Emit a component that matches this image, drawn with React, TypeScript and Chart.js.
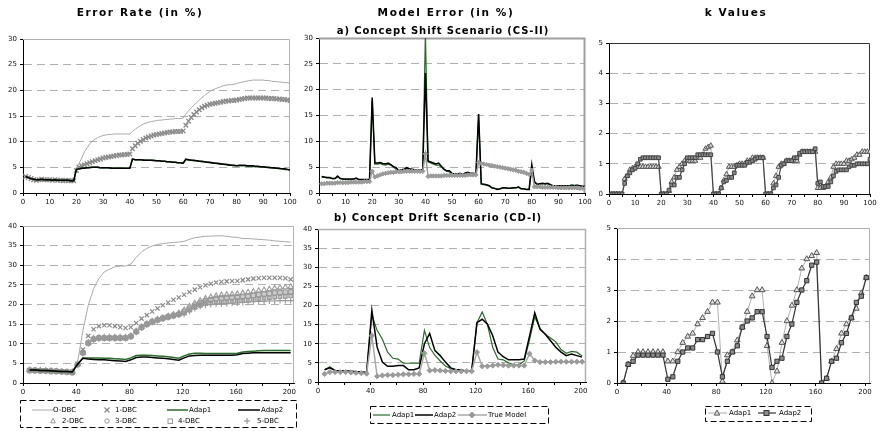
import React, { useEffect, useRef } from 'react';
import { Chart, registerables } from 'chart.js';
Chart.register(...registerables);

const W = 882;
const H = 431;
const FONT = "'DejaVu Sans', Verdana, sans-serif";

// sample positions
const topX = Array.from({ length: 100 }, (_, i) => i + 1);
const botX = Array.from({ length: 50 }, (_, i) => 5 + 4 * i);

// ---------- a) Concept Shift (CS-II): Error Rate ----------
const tlODBC = [
  3.2, 3.0, 2.8, 2.7, 2.6, 2.6, 2.6, 2.6, 2.6, 2.6,
  2.5, 2.5, 2.5, 2.5, 2.5, 2.5, 2.5, 2.5, 2.5, 4.8,
  5.8, 6.8, 8.0, 8.8, 9.6, 10.1, 10.5, 10.8, 11.0, 11.2,
  11.3, 11.4, 11.4, 11.5, 11.5, 11.5, 11.5, 11.5, 11.5, 11.5,
  12.0, 12.4, 12.8, 13.1, 13.4, 13.6, 13.8, 13.9, 14.0, 14.1,
  14.2, 14.2, 14.3, 14.3, 14.4, 14.4, 14.5, 14.5, 14.5, 14.6,
  15.4, 16.0, 16.6, 17.1, 17.6, 18.1, 18.6, 19.0, 19.4, 19.8,
  20.1, 20.3, 20.5, 20.7, 20.9, 21.0, 21.1, 21.1, 21.2, 21.3,
  21.5, 21.6, 21.7, 21.8, 21.9, 22.0, 22.0, 22.0, 22.0, 22.0,
  21.9, 21.9, 21.8, 21.7, 21.7, 21.6, 21.6, 21.5, 21.5, 21.4,
];
const tl1DBC = [
  3.2, 3.0, 2.8, 2.6, 2.5, 2.6, 2.7, 2.6, 2.6, 2.6,
  2.5, 2.6, 2.5, 2.5, 2.4, 2.5, 2.4, 2.4, 2.4, 4.4,
  5.0, 5.3, 5.5, 5.7, 5.9, 6.1, 6.3, 6.5, 6.6, 6.8,
  6.9, 7.0, 7.1, 7.2, 7.3, 7.4, 7.4, 7.5, 7.5, 7.6,
  8.6, 9.2, 9.7, 10.1, 10.4, 10.7, 10.9, 11.1, 11.3, 11.4,
  11.5, 11.6, 11.7, 11.8, 11.9, 11.9, 12.0, 12.0, 12.0, 12.1,
  13.2, 14.0, 14.7, 15.3, 15.8, 16.2, 16.6, 16.9, 17.1, 17.3,
  17.4, 17.5, 17.6, 17.7, 17.8, 17.9, 17.9, 18.0, 18.0, 18.1,
  18.2, 18.3, 18.4, 18.5, 18.5, 18.5, 18.5, 18.5, 18.5, 18.5,
  18.5, 18.4, 18.4, 18.4, 18.3, 18.3, 18.2, 18.2, 18.1, 18.0,
];
const tlAdap1 = [
  3.2, 3.0, 2.8, 2.7, 2.6, 2.6, 2.7, 2.6, 2.6, 2.6,
  2.5, 2.6, 2.5, 2.5, 2.5, 2.5, 2.5, 2.4, 2.4, 4.6,
  4.7, 4.8, 4.9, 4.9, 5.0, 5.0, 5.0, 5.0, 4.9, 4.9,
  4.9, 4.9, 4.9, 4.8, 4.8, 4.8, 4.8, 4.8, 4.8, 4.8,
  6.6, 6.5, 6.5, 6.5, 6.5, 6.4, 6.4, 6.4, 6.3, 6.3,
  6.3, 6.2, 6.2, 6.1, 6.1, 6.0, 6.0, 5.9, 5.9, 5.8,
  6.5, 6.4, 6.4, 6.3, 6.3, 6.2, 6.1, 6.1, 6.0, 5.9,
  5.8, 5.8, 5.7, 5.6, 5.6, 5.5, 5.4, 5.4, 5.3, 5.3,
  5.3, 5.3, 5.3, 5.2, 5.2, 5.2, 5.1, 5.1, 5.1, 5.0,
  5.0, 4.9, 4.9, 4.8, 4.8, 4.7, 4.7, 4.6, 4.6, 4.5,
];
const tlAdap2 = [
  3.2, 3.0, 2.8, 2.7, 2.6, 2.6, 2.7, 2.6, 2.6, 2.6,
  2.5, 2.6, 2.5, 2.5, 2.5, 2.5, 2.5, 2.4, 2.4, 4.6,
  4.7, 4.8, 4.8, 4.9, 4.9, 5.0, 5.0, 5.0, 4.9, 4.9,
  4.9, 4.9, 4.8, 4.8, 4.8, 4.8, 4.8, 4.8, 4.8, 4.8,
  6.6, 6.5, 6.5, 6.5, 6.4, 6.4, 6.4, 6.4, 6.4, 6.3,
  6.3, 6.2, 6.2, 6.1, 6.1, 6.0, 6.0, 5.9, 5.9, 5.8,
  6.6, 6.5, 6.4, 6.4, 6.3, 6.2, 6.2, 6.1, 6.0, 6.0,
  5.9, 5.8, 5.8, 5.7, 5.6, 5.6, 5.5, 5.4, 5.4, 5.3,
  5.4, 5.4, 5.4, 5.3, 5.3, 5.3, 5.2, 5.2, 5.1, 5.1,
  5.0, 5.0, 4.9, 4.9, 4.8, 4.8, 4.7, 4.7, 4.6, 4.5,
];

// ---------- a) CS-II: Model Error ----------
const tmAdap1 = [
  3.1, 3.0, 2.9, 2.9, 2.8, 2.8, 3.1, 2.8, 2.7, 2.6,
  2.6, 2.6, 2.7, 2.8, 2.6, 2.6, 2.6, 2.6, 2.5, 18.0,
  5.6, 5.6, 5.7, 5.5, 5.4, 5.6, 5.4, 5.0, 4.6, 4.0,
  4.3, 4.5, 4.7, 4.6, 4.5, 4.4, 4.3, 4.4, 4.4, 31.0,
  6.0, 5.8, 5.6, 5.4, 5.4, 5.0, 4.5, 4.2, 4.1, 3.7,
  3.6, 3.6, 3.7, 3.5, 3.8, 3.9, 3.7, 3.7, 3.6, 15.0,
  1.7, 1.6, 1.5, 1.3, 1.0, 0.9, 0.8, 0.8, 0.9, 1.0,
  0.9, 0.9, 1.0, 1.0, 1.1, 0.8, 0.8, 0.7, 0.7, 4.8,
  2.0, 1.6, 1.7, 1.8, 1.7, 1.8, 1.5, 1.4, 1.4, 1.3,
  1.3, 1.3, 1.3, 1.4, 1.6, 1.5, 1.5, 1.4, 1.2, 1.2,
];
const tmAdap2 = [
  3.2, 3.1, 3.0, 3.0, 2.8, 2.8, 3.3, 2.8, 2.7, 2.7,
  2.7, 2.7, 2.7, 2.9, 2.6, 2.6, 2.6, 2.6, 2.6, 18.5,
  5.8, 5.8, 5.9, 5.7, 5.6, 5.8, 5.5, 5.1, 4.9, 4.3,
  4.5, 4.6, 4.9, 4.7, 4.6, 4.5, 4.4, 4.5, 4.5, 23.2,
  6.2, 6.0, 5.8, 5.6, 5.8, 5.2, 4.6, 4.3, 4.3, 3.8,
  3.7, 3.7, 3.8, 3.5, 3.9, 4.0, 3.8, 3.8, 3.7, 15.3,
  1.8, 1.7, 1.6, 1.4, 1.0, 0.9, 0.7, 0.8, 1.0, 1.0,
  0.9, 0.9, 1.0, 1.0, 1.2, 0.8, 0.8, 0.7, 0.7, 5.5,
  2.2, 1.7, 1.8, 1.9, 1.8, 1.9, 1.6, 1.4, 1.4, 1.4,
  1.4, 1.4, 1.4, 1.4, 1.4, 1.4, 1.5, 1.4, 1.3, 1.3,
];
const tmTrue = [
  1.8, 1.8, 1.9, 1.9, 1.9, 1.9, 2.0, 2.0, 2.0, 2.0,
  2.0, 2.1, 2.1, 2.1, 2.1, 2.1, 2.2, 2.2, 2.2, 4.2,
  3.1, 3.3, 3.5, 3.7, 3.8, 3.9, 4.0, 4.0, 4.1, 4.1,
  4.1, 4.2, 4.2, 4.2, 4.2, 4.2, 4.2, 4.2, 4.2, 7.6,
  3.2, 3.3, 3.3, 3.3, 3.3, 3.3, 3.4, 3.4, 3.4, 3.4,
  3.4, 3.4, 3.4, 3.4, 3.4, 3.5, 3.5, 3.5, 3.5, 5.9,
  5.7, 5.6, 5.5, 5.4, 5.3, 5.2, 5.1, 5.0, 4.9, 4.8,
  4.7, 4.6, 4.5, 4.4, 4.2, 4.1, 4.0, 3.8, 3.6, 4.4,
  1.2, 1.2, 1.2, 1.1, 1.1, 1.1, 1.1, 1.1, 1.1, 1.0,
  1.0, 1.0, 1.0, 1.0, 1.0, 1.0, 1.0, 0.9, 0.9, 0.9,
];

// ---------- a) CS-II: k values ----------
const trAdap1 = [
  0, 0, 0, 0, 0, 0.5, 0.6, 0.8, 0.85, 0.9,
  0.9, 0.9, 0.9, 0.9, 0.9, 0.9, 0.9, 0.9, 0.9, 0,
  0, 0, 0.1, 0.4, 0.55, 0.8, 0.9, 1.0, 1.1, 1.1,
  1.1, 1.1, 1.1, 1.2, 1.2, 1.3, 1.5, 1.55, 1.6, 0,
  0, 0, 0.2, 0.45, 0.65, 0.9, 0.9, 0.9, 0.95, 1.0,
  1.0, 1.0, 1.1, 1.1, 1.2, 1.2, 1.2, 1.2, 1.2, 0,
  0, 0, 0.35, 0.6, 0.9, 1.0, 1.0, 1.1, 1.1, 1.1,
  1.1, 1.1, 1.3, 1.4, 1.4, 1.4, 1.4, 1.4, 1.4, 0.2,
  0.2, 0.2, 0.25, 0.4, 0.55, 0.9, 1.0, 1.0, 1.0, 1.0,
  1.1, 1.1, 1.15, 1.2, 1.3, 1.3, 1.4, 1.4, 1.4, 1.4,
];
const trAdap2 = [
  0, 0, 0, 0, 0, 0.35, 0.6, 0.7, 0.8, 0.85,
  1.0, 1.15, 1.2, 1.2, 1.2, 1.2, 1.2, 1.2, 1.2, 0,
  0, 0, 0.13, 0.3, 0.3, 0.55, 0.55, 0.8, 1.0, 1.2,
  1.2, 1.2, 1.2, 1.3, 1.3, 1.3, 1.3, 1.3, 1.3, 0,
  0, 0, 0.2, 0.4, 0.45, 0.55, 0.55, 0.7, 0.95, 0.95,
  0.95, 0.95, 1.05, 1.05, 1.1, 1.15, 1.2, 1.2, 1.2, 0,
  0, 0, 0.2, 0.3, 0.55, 0.95, 1.0, 1.1, 1.1, 1.1,
  1.2, 1.2, 1.35, 1.4, 1.4, 1.4, 1.4, 1.4, 1.5, 0.35,
  0.4, 0.25, 0.25, 0.25, 0.4, 0.6, 0.75, 0.8, 0.8, 0.8,
  0.8, 0.9, 0.95, 0.95, 1.0, 1.0, 1.0, 1.0, 1.0, 1.15,
];

// ---------- b) Concept Drift (CD-I): Error Rate ----------
const blODBC = [
  3.3, 3.3, 3.2, 3.2, 3.1, 3.0, 2.9, 2.9, 2.8,
  5.4, 13.4, 19.8, 24.0, 26.6, 28.3, 29.0, 29.6, 29.8, 29.8,
  30.3, 32.0, 33.4, 34.3, 34.9, 35.3, 35.5, 35.7, 35.8, 35.9,
  36.1, 36.6, 37.0, 37.2, 37.4, 37.4, 37.5, 37.5, 37.4, 37.2,
  37.1, 36.8, 36.8, 36.7, 36.6, 36.5, 36.4, 36.2, 36.1, 36.0, 35.9,
];
const bl1DBC = [
  3.3, 3.3, 3.2, 3.2, 3.1, 3.0, 2.9, 2.9, 2.8,
  4.8, 8.5, 12.0, 13.7, 14.5, 14.7, 14.7, 14.5, 14.2, 14.0,
  14.2, 15.3, 16.4, 17.3, 18.2, 19.0, 19.8, 20.5, 21.2, 21.8,
  22.5, 23.2, 23.8, 24.4, 24.9, 25.3, 25.6, 25.8, 25.9, 26.0,
  26.0, 26.2, 26.4, 26.6, 26.7, 26.8, 26.8, 26.8, 26.8, 26.7, 26.4,
];
const bl2DBC = [
  3.3, 3.2, 3.2, 3.1, 3.1, 3.0, 2.9, 2.8, 2.8,
  4.8, 7.8, 10.3, 11.3, 11.5, 11.6, 11.6, 11.6, 11.6, 11.6,
  12.0, 13.2, 14.3, 15.1, 15.7, 16.2, 16.6, 17.0, 17.4, 17.8,
  18.6, 19.5, 20.3, 21.0, 21.5, 21.9, 22.2, 22.4, 22.5, 22.6,
  22.7, 22.9, 23.1, 23.3, 23.5, 23.7, 23.9, 24.1, 24.3, 24.4, 24.5,
];
const bl3DBC = [
  3.2, 3.2, 3.1, 3.1, 3.0, 3.0, 2.9, 2.8, 2.7,
  4.7, 7.7, 10.2, 11.2, 11.5, 11.5, 11.5, 11.5, 11.5, 11.5,
  11.9, 13.1, 14.2, 15.0, 15.6, 16.1, 16.5, 16.9, 17.2, 17.5,
  18.2, 19.0, 19.8, 20.4, 20.9, 21.2, 21.5, 21.6, 21.7, 21.8,
  21.9, 22.0, 22.1, 22.3, 22.5, 22.6, 22.8, 22.9, 23.0, 23.1, 23.2,
];
const bl4DBC = [
  3.2, 3.2, 3.1, 3.1, 3.0, 2.9, 2.9, 2.8, 2.7,
  4.7, 7.7, 10.1, 11.1, 11.4, 11.4, 11.4, 11.4, 11.4, 11.4,
  11.8, 13.0, 14.1, 14.9, 15.5, 16.0, 16.4, 16.8, 17.1, 17.4,
  17.8, 18.6, 19.3, 19.8, 20.2, 20.4, 20.5, 20.6, 20.7, 20.8,
  20.9, 21.0, 21.1, 21.3, 21.4, 21.6, 21.7, 21.9, 22.0, 22.1, 22.2,
];
const bl5DBC = [
  3.2, 3.1, 3.1, 3.0, 3.0, 2.9, 2.8, 2.8, 2.7,
  4.7, 7.6, 10.0, 11.0, 11.3, 11.3, 11.3, 11.3, 11.3, 11.3,
  11.7, 12.9, 14.0, 14.8, 15.4, 15.9, 16.3, 16.7, 17.0, 17.3,
  17.5, 18.3, 19.0, 19.5, 19.8, 20.0, 20.1, 20.2, 20.2, 20.3,
  20.4, 20.5, 20.6, 20.7, 20.8, 20.8, 20.9, 20.9, 21.0, 21.0, 21.0,
];
const blAdap1 = [
  3.3, 3.3, 3.2, 3.2, 3.1, 3.0, 2.9, 2.9, 2.8,
  4.8, 6.4, 6.4, 6.4, 6.4, 6.3, 6.3, 6.2, 6.1, 6.0,
  6.4, 7.0, 7.1, 7.1, 7.0, 6.9, 6.8, 6.7, 6.5, 6.3,
  6.9, 7.4, 7.6, 7.6, 7.5, 7.5, 7.5, 7.5, 7.5, 7.5,
  7.6, 7.9, 8.0, 8.1, 8.2, 8.3, 8.3, 8.3, 8.3, 8.3, 8.3,
];
const blAdap2 = [
  3.3, 3.3, 3.2, 3.2, 3.1, 3.0, 2.9, 2.9, 2.8,
  4.8, 6.3, 6.1, 6.0, 5.9, 5.9, 5.8, 5.7, 5.6, 5.5,
  5.9, 6.5, 6.6, 6.6, 6.5, 6.4, 6.3, 6.2, 6.0, 5.8,
  6.4, 6.9, 7.0, 7.1, 7.1, 7.1, 7.1, 7.1, 7.1, 7.1,
  7.2, 7.5, 7.6, 7.7, 7.7, 7.7, 7.7, 7.7, 7.7, 7.7, 7.7,
];

// ---------- b) CD-I: Model Error ----------
const bmAdap1 = [
  3.2, 4.0, 3.0, 2.8, 2.9, 2.8, 2.7, 2.6, 2.5,
  17.5, 13.5, 11.2, 7.8, 6.2, 6.0, 4.9, 4.9, 4.9, 4.9,
  13.5, 9.0, 7.0, 5.5, 4.2, 3.5, 3.2, 3.0, 3.0, 3.0,
  15.5, 18.3, 15.0, 9.0, 6.0, 5.8, 5.0, 4.5, 4.5, 5.5,
  11.0, 17.0, 14.0, 12.5, 11.5, 10.5, 8.5, 7.5, 8.0, 7.8, 6.8,
];
const bmAdap2 = [
  3.2, 3.7, 3.0, 2.9, 2.9, 2.8, 2.7, 2.6, 2.5,
  18.7, 9.1, 5.2, 4.1, 4.1, 4.3, 4.3, 3.2, 3.2, 3.7,
  10.0, 12.7, 8.2, 6.9, 5.2, 3.7, 3.2, 3.2, 2.8, 3.0,
  15.5, 16.4, 15.1, 12.1, 7.8, 6.6, 5.8, 5.8, 5.8, 6.0,
  12.0, 18.1, 13.8, 12.5, 10.8, 9.1, 7.8, 6.9, 7.3, 6.9, 6.5,
];
const bmTrue = [
  2.1, 2.6, 2.6, 2.6, 2.6, 2.5, 2.4, 2.3, 2.2,
  12.1, 1.5, 1.7, 1.8, 1.8, 1.9, 2.0, 2.0, 2.1, 2.1,
  7.5, 3.0, 3.1, 3.0, 2.9, 2.8, 2.8, 2.8, 2.8, 2.8,
  7.8, 4.1, 4.1, 4.3, 4.5, 4.4, 4.3, 4.3, 4.3, 4.3,
  7.4, 5.6, 5.2, 5.2, 5.2, 5.3, 5.3, 5.3, 5.3, 5.3, 5.3,
];

// ---------- b) CD-I: k values ----------
const brAdap1 = [
  0, 0.6, 0.88, 1.0, 1.0, 1.0, 1.0, 1.0, 1.0,
  0.7, 0.7, 1.0, 1.3, 1.5, 1.6, 1.9, 2.1, 2.3, 2.6,
  2.6, 0.05, 0.9, 1.0, 1.38, 1.8, 2.3, 2.8, 3.0, 3.0,
  1.2, 0.0, 0.38, 1.3, 2.0, 2.5, 3.0, 3.7, 4.0, 4.1,
  4.2, 0, 0.15, 0.7, 1.1, 1.6, 1.9, 2.1, 2.4, 2.9, 3.4,
];
const brAdap2 = [
  0, 0.6, 0.7, 0.9, 0.9, 0.9, 0.9, 0.9, 0.9,
  0.12, 0.2, 0.7, 1.0, 1.13, 1.13, 1.4, 1.4, 1.5, 1.6,
  1.0, 0.2, 0.7, 1.0, 1.2, 1.8, 2.0, 2.1, 2.3, 2.3,
  1.5, 0.5, 0.7, 0.8, 1.5, 1.9, 2.6, 3.0, 3.3, 3.8,
  3.9, 0, 0.15, 0.7, 0.8, 1.3, 1.6, 2.1, 2.6, 2.8, 3.4,
];

// ---------- styles ----------
const GREEN = '#2a6a2a';
const ODBC_GREY = '#a8a8a8';
const MARK_GREY = '#8a8a8a';
const TRUE_GREY = '#9a9a9a';

function pts(xs: number[], ys: number[]) {
  return ys.map((y, i) => ({ x: xs[i], y }));
}

function lineDs(label: string, xs: number[], ys: number[], color: string, width: number) {
  return { label, data: pts(xs, ys), borderColor: color, borderWidth: width, pointRadius: 0, tension: 0, fill: false };
}

function markDs(label: string, xs: number[], ys: number[], style: string, radius: number, color: string, fillColor: string, bw: number) {
  return {
    label, data: pts(xs, ys), showLine: false, pointStyle: style, pointRadius: radius,
    pointBorderColor: color, pointBackgroundColor: fillColor, pointBorderWidth: bw, borderColor: color, backgroundColor: fillColor,
  };
}

function lineMarkDs(label: string, xs: number[], ys: number[], lineColor: string, lw: number, style: string, radius: number, ptBorder: string, ptFill: string, pbw: number) {
  return {
    label, data: pts(xs, ys), borderColor: lineColor, borderWidth: lw, tension: 0, fill: false,
    pointStyle: style, pointRadius: radius, pointBorderColor: ptBorder, pointBackgroundColor: ptFill, pointBorderWidth: pbw,
  };
}

const framePlugin = {
  id: 'frame',
  beforeDatasetsDraw(chart: any, _args: any, opts: any) {
    const { ctx, chartArea: a } = chart;
    ctx.save();
    ctx.strokeStyle = opts.color || '#aaa';
    ctx.lineWidth = opts.width || 1;
    ctx.beginPath();
    ctx.moveTo(a.left, a.top + 0.5);
    ctx.lineTo(a.right - 0.5, a.top + 0.5);
    ctx.lineTo(a.right - 0.5, a.bottom);
    ctx.stroke();
    ctx.restore();
  },
};

type Area = { left: number; top: number; right: number; bottom: number };
type Spec = {
  area: Area; xMax: number; xStep: number; xLabelEvery: number;
  yMax: number; yStep: number; datasets: any[]; frameColor: string; frameWidth: number;
};

const YW = 30;
const XH = 20;

function buildConfig(p: Spec): any {
  const tickFont = { family: FONT, size: 7 };
  return {
    type: 'line',
    data: { datasets: p.datasets },
    options: {
      responsive: false,
      animation: false,
      events: [],
      layout: {
        padding: {
          left: p.area.left - YW,
          top: p.area.top,
          right: W - p.area.right,
          bottom: H - p.area.bottom - XH,
        },
      },
      plugins: {
        legend: { display: false },
        tooltip: { enabled: false },
        title: { display: false },
        frame: { color: p.frameColor, width: p.frameWidth },
      },
      scales: {
        x: {
          type: 'linear',
          min: 0,
          max: p.xMax,
          afterFit: (s: any) => { s.height = XH; },
          ticks: {
            stepSize: p.xStep,
            autoSkip: false,
            maxRotation: 0,
            minRotation: 0,
            includeBounds: false,
            padding: 2,
            color: '#111',
            font: tickFont,
            callback: (v: any) => {
              const n = Math.round(Number(v));
              return n % p.xLabelEvery === 0 ? String(n) : '';
            },
          },
          grid: { drawOnChartArea: false, drawTicks: true, tickLength: 3, tickColor: '#000', color: '#000' },
          border: { color: '#000', width: 1 },
        },
        y: {
          min: 0,
          max: p.yMax,
          afterFit: (s: any) => { s.width = YW; },
          ticks: { stepSize: p.yStep, autoSkip: false, padding: 3, color: '#111', font: tickFont },
          grid: {
            color: (c: any) => (c.tick && (c.tick.value === 0 || c.tick.value === p.yMax) ? 'rgba(0,0,0,0)' : '#b0b0b0'),
            tickColor: '#000',
            tickLength: 3,
            lineWidth: 1,
            drawTicks: true,
          },
          border: { color: '#000', width: 1, dash: [8, 5] },
        },
      },
    },
    plugins: [framePlugin],
  };
}

const specs: Spec[] = [
  {
    area: { left: 23, top: 39, right: 290, bottom: 193 },
    xMax: 100, xStep: 5, xLabelEvery: 10, yMax: 30, yStep: 5, frameColor: '#b0b0b0', frameWidth: 1,
    datasets: [
      lineDs('Adap2', topX, tlAdap2, '#000', 1.5),
      lineDs('Adap1', topX, tlAdap1, GREEN, 1.5),
      markDs('1-DBC', topX, tl1DBC, 'crossRot', 3.2, MARK_GREY, MARK_GREY, 1.4),
      lineDs('O-DBC', topX, tlODBC, ODBC_GREY, 1),
    ],
  },
  {
    area: { left: 319, top: 38, right: 585, bottom: 193 },
    xMax: 100, xStep: 5, xLabelEvery: 10, yMax: 30, yStep: 5, frameColor: '#a0a0a0', frameWidth: 2,
    datasets: [
      lineMarkDs('True Model', topX, tmTrue, TRUE_GREY, 1.5, 'rectRot', 2.2, TRUE_GREY, TRUE_GREY, 1),
      lineDs('Adap2', topX, tmAdap2, '#000', 1.5),
      lineDs('Adap1', topX, tmAdap1, GREEN, 1.2),
    ],
  },
  {
    area: { left: 609, top: 43, right: 870, bottom: 194 },
    xMax: 100, xStep: 5, xLabelEvery: 10, yMax: 5, yStep: 1, frameColor: '#333', frameWidth: 1,
    datasets: [
      lineMarkDs('Adap2', topX, trAdap2, '#444', 1.2, 'rect', 2.6, '#444', '#8c8c8c', 1),
      lineMarkDs('Adap1', topX, trAdap1, '#aaa', 1, 'triangle', 3, '#555', '#dcdcdc', 1),
    ],
  },
  {
    area: { left: 23, top: 226, right: 294, bottom: 383 },
    xMax: 203.5, xStep: 20, xLabelEvery: 40, yMax: 40, yStep: 5, frameColor: '#b0b0b0', frameWidth: 1,
    datasets: [
      lineDs('Adap2', botX, blAdap2, '#000', 1.5),
      lineDs('Adap1', botX, blAdap1, GREEN, 1.5),
      markDs('1-DBC', botX, bl1DBC, 'crossRot', 3, MARK_GREY, MARK_GREY, 1.2),
      markDs('2-DBC', botX, bl2DBC, 'triangle', 3, '#999', 'rgba(0,0,0,0)', 1.1),
      markDs('3-DBC', botX, bl3DBC, 'circle', 2.6, '#999', 'rgba(140,140,140,0.45)', 1.1),
      markDs('4-DBC', botX, bl4DBC, 'rect', 2.6, '#999', 'rgba(140,140,140,0.45)', 1.1),
      markDs('5-DBC', botX, bl5DBC, 'cross', 3, '#999', '#999', 1.1),
      lineDs('O-DBC', botX, blODBC, ODBC_GREY, 1),
    ],
  },
  {
    area: { left: 318, top: 229, right: 586, bottom: 382 },
    xMax: 204, xStep: 20, xLabelEvery: 40, yMax: 40, yStep: 5, frameColor: '#b0b0b0', frameWidth: 1.5,
    datasets: [
      lineMarkDs('True Model', botX, bmTrue, '#a8a8a8', 1.5, 'rectRot', 2.6, TRUE_GREY, TRUE_GREY, 1),
      lineDs('Adap2', botX, bmAdap2, '#000', 1.5),
      lineDs('Adap1', botX, bmAdap1, GREEN, 1.2),
    ],
  },
  {
    area: { left: 617, top: 228, right: 870, bottom: 383 },
    xMax: 204, xStep: 20, xLabelEvery: 40, yMax: 5, yStep: 1, frameColor: '#b0b0b0', frameWidth: 1,
    datasets: [
      lineMarkDs('Adap2', botX, brAdap2, '#333', 1.2, 'rect', 3, '#333', '#8c8c8c', 1),
      lineMarkDs('Adap1', botX, brAdap1, '#b0b0b0', 1, 'triangle', 3.3, '#555', '#e0e0e0', 1),
    ],
  },
];

function ChartLayer({ spec }: { spec: Spec }) {
  const ref = useRef<HTMLCanvasElement | null>(null);
  useEffect(() => {
    if (!ref.current) return;
    const chart = new Chart(ref.current, buildConfig(spec));
    return () => chart.destroy();
  }, [spec]);
  return (
    <canvas
      ref={ref}
      width={W}
      height={H}
      style={{ position: 'absolute', left: 0, top: 0, width: W, height: H }}
    />
  );
}

function Txt(props: { x: number; y: number; size?: number; bold?: boolean; ls?: number; center?: boolean; children: any }) {
  const { x, y, size = 7, bold = false, ls = 0, center = false, children } = props;
  return (
    <div
      style={{
        position: 'absolute',
        left: center ? x - 200 : x,
        top: y - 10,
        width: center ? 400 : undefined,
        height: 20,
        lineHeight: '20px',
        textAlign: center ? 'center' : 'left',
        fontFamily: FONT,
        fontSize: size,
        fontWeight: bold ? 700 : 400,
        letterSpacing: ls,
        whiteSpace: 'nowrap',
        color: '#000',
      }}
    >
      {children}
    </div>
  );
}

function Tri({ cx, cy, r, stroke, fill }: any) {
  return <polygon points={`${cx},${cy - r} ${cx + r * 0.9},${cy + r * 0.7} ${cx - r * 0.9},${cy + r * 0.7}`} stroke={stroke} fill={fill} strokeWidth={1} />;
}

function Legends() {
  const dash = '6 3';
  return (
    <>
      <svg width={W} height={H} style={{ position: 'absolute', left: 0, top: 0 }}>
        {/* bottom-left legend */}
        <rect x={20.5} y={400.5} width={276} height={27} fill="none" stroke="#000" strokeWidth={1} strokeDasharray={dash} />
        <line x1={32} y1={410} x2={53} y2={410} stroke={ODBC_GREY} strokeWidth={1} />
        <g stroke={MARK_GREY} strokeWidth={1.2}>
          <line x1={104.5} y1={407.5} x2={109.5} y2={412.5} />
          <line x1={104.5} y1={412.5} x2={109.5} y2={407.5} />
        </g>
        <line x1={167} y1={410} x2={188} y2={410} stroke={GREEN} strokeWidth={1.5} />
        <line x1={238} y1={410} x2={260} y2={410} stroke="#000" strokeWidth={1.5} />
        <Tri cx={53} cy={421} r={2.6} stroke="#999" fill="none" />
        <circle cx={107} cy={421} r={2.2} stroke="#999" fill="none" strokeWidth={1} />
        <rect x={168} y={419} width={4.5} height={4.5} stroke="#999" fill="none" strokeWidth={1} />
        <g stroke="#999" strokeWidth={1.2}>
          <line x1={244} y1={421} x2={250} y2={421} />
          <line x1={247} y1={418} x2={247} y2={424} />
        </g>

        {/* bottom-middle legend */}
        <rect x={370.5} y={406.5} width={178} height={17} fill="none" stroke="#000" strokeWidth={1} strokeDasharray={dash} />
        <line x1={373} y1={415} x2={390} y2={415} stroke={GREEN} strokeWidth={1.2} />
        <line x1={415} y1={415} x2={433} y2={415} stroke="#000" strokeWidth={1.5} />
        <line x1={458} y1={415} x2={487} y2={415} stroke="#a8a8a8" strokeWidth={1.5} />
        <polygon points="472,412 475,415 472,418 469,415" fill={TRUE_GREY} stroke={TRUE_GREY} />

        {/* bottom-right legend */}
        <rect x={705.5} y={406.5} width={106} height={15} fill="none" stroke="#000" strokeWidth={1} strokeDasharray={dash} />
        <line x1={708} y1={413} x2={727} y2={413} stroke="#b0b0b0" strokeWidth={1} />
        <Tri cx={717} cy={413} r={3} stroke="#555" fill="#e0e0e0" />
        <line x1={758} y1={413} x2={776} y2={413} stroke="#333" strokeWidth={1.2} />
        <rect x={764} y={410.5} width={5} height={5} stroke="#333" fill="#8c8c8c" strokeWidth={1} />
      </svg>

      <Txt x={53} y={410}>O-DBC</Txt>
      <Txt x={115} y={410}>1-DBC</Txt>
      <Txt x={189} y={410}>Adap1</Txt>
      <Txt x={261} y={410}>Adap2</Txt>
      <Txt x={62} y={421}>2-DBC</Txt>
      <Txt x={115} y={421}>3-DBC</Txt>
      <Txt x={178} y={421}>4-DBC</Txt>
      <Txt x={257} y={421}>5-DBC</Txt>

      <Txt x={392} y={415}>Adap1</Txt>
      <Txt x={434} y={415}>Adap2</Txt>
      <Txt x={488} y={415}>True Model</Txt>

      <Txt x={729} y={413}>Adap1</Txt>
      <Txt x={779} y={413}>Adap2</Txt>
    </>
  );
}

export default function App() {
  return (
    <div style={{ position: 'fixed', left: 0, top: 0, width: W, height: H, background: '#fff', overflow: 'hidden' }}>
      {specs.map((s, i) => (
        <ChartLayer key={i} spec={s} />
      ))}
      <Legends />
      <Txt x={140} y={12} size={10.5} bold ls={1.6} center>Error Rate (in %)</Txt>
      <Txt x={446} y={12} size={10.5} bold ls={1.6} center>Model Error (in %)</Txt>
      <Txt x={736} y={12} size={10.5} bold ls={1.6} center>k Values</Txt>
      <Txt x={443} y={31} size={10} bold ls={0.9} center>a) Concept Shift Scenario (CS-II)</Txt>
      <Txt x={438} y={217.5} size={10} bold ls={0.9} center>b) Concept Drift Scenario (CD-I)</Txt>
    </div>
  );
}
